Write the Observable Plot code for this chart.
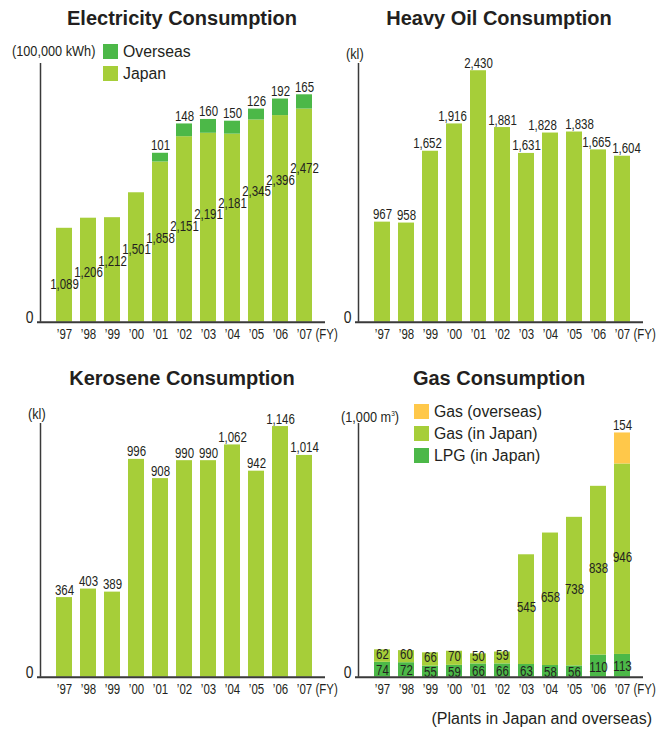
<!DOCTYPE html>
<html>
<head>
<meta charset="utf-8">
<script src="https://cdn.jsdelivr.net/npm/d3@7"></script>
<script src="https://cdn.jsdelivr.net/npm/@observablehq/plot@0.6"></script>
<style>
  body { margin: 0; background: #fff; }
  #root { position: relative; width: 668px; height: 730px; font-family: "Liberation Sans", Arial, sans-serif; color: #231f20; overflow: hidden; }
  .panel { position: absolute; width: 334px; }
  .panel svg { position: absolute; left: 0; top: 0; }
  .title { position: absolute; top: 8px; font-weight: bold; font-size: 20px; line-height: 20px; white-space: nowrap; transform: translateX(-50%); z-index: 2; }
  .unit { position: absolute; font-size: 15.5px; line-height: 16px; white-space: nowrap; transform: scaleX(0.82); transform-origin: 0 0; z-index: 2; }
  .leg { position: absolute; display: flex; align-items: center; font-size: 15.8px; line-height: 15px; white-space: nowrap; z-index: 2; }
  .leg span.sw { display: inline-block; width: 15px; height: 15px; margin-right: 5px; }
  .caption { position: absolute; right: 16px; top: 711px; font-size: 16px; line-height: 16px; white-space: nowrap; }
</style>
</head>
<body>
<div id="root"></div>
<script>
// ---------- data ----------
const years = ["1997","1998","1999","2000","2001","2002","2003","2004","2005","2006","2007"];
const tickLabels = ["’97","’98","’99","’00","’01","’02","’03","’04","’05","’06","’07"];

const elecJapan    = [1089,1206,1212,1501,1858,2151,2191,2181,2345,2396,2472];
const elecOverseas = [0,0,0,0,101,148,160,150,126,192,165];

const heavyOil = [967,958,1652,1916,2430,1881,1631,1828,1838,1665,1604];

const kerosene = [364,403,389,996,908,990,990,1062,942,1146,1014];

const lpgJapan    = [74,72,55,59,66,66,63,58,56,110,113];
const gasJapan    = [62,60,66,70,50,59,545,658,738,838,946];
const gasOverseas = [0,0,0,0,0,0,0,0,0,0,154];

// ---------- style ----------
const LIME = "#a6ce39", GREEN = "#4cb848", YELLOW = "#ffc84a", INK = "#231f20", AXIS = "#3a3a3a";
const fmt = d3.format(",");
const tickFmt = y => tickLabels[years.indexOf(y)];

// horizontal condensing of SVG texts (imitates a narrow typeface)
function condense(svg, k) {
  svg.querySelectorAll("text").forEach(t => {
    const w = t.getComputedTextLength();
    if (w > 0) {
      t.setAttribute("textLength", (w * k).toFixed(2));
      t.setAttribute("lengthAdjust", "spacingAndGlyphs");
    }
  });
}

function chart({L, H, baseline, yMax, marks}) {
  const frameW = 288;
  return Plot.plot({
    width: 334, height: H,
    marginLeft: L, marginRight: 334 - (L + frameW), marginTop: 63, marginBottom: H - baseline,
    style: {fontFamily: "'Liberation Sans',Arial,sans-serif", fontSize: "14px", color: INK, background: "transparent", overflow: "visible"},
    x: {type: "band", domain: years, range: [L, L + 292.7], paddingInner: 0.346, paddingOuter: 0.654,
        tickSize: 0, tickPadding: 7, tickFormat: tickFmt, label: null},
    y: {domain: [0, yMax], axis: null},
    marks: [
      ...marks,
      Plot.ruleY([0], {stroke: AXIS, strokeWidth: 2}),
      Plot.ruleX([years[0]], {x: d => d, y1: 0, y2: yMax, dx: -24, stroke: AXIS, strokeWidth: 1.5}),
      Plot.text([0], {y: d => d, frameAnchor: "left", textAnchor: "end", dx: -4, dy: -5, fontSize: 17, text: d => "0"}),
      Plot.text(["(FY)"], {frameAnchor: "bottom-right", textAnchor: "start", lineAnchor: "top", dx: -10, dy: 7, fontSize: 14})
    ]
  });
}

function panel(left, top, height, titleText, titleX, extraHTML) {
  const div = document.createElement("div");
  div.className = "panel";
  div.style.left = left + "px";
  div.style.top = top + "px";
  div.style.height = height + "px";
  div.innerHTML = `<div class="title" style="left:${titleX}px">${titleText}</div>` + extraHTML;
  document.getElementById("root").appendChild(div);
  return div;
}

function place(p, svg) {
  p.prepend(svg);
  condense(svg, 0.82);
}

function legendItems(x, y0, items) {
  return items.map(([label, color], i) =>
    `<div class="leg" style="left:${x}px;top:${y0 + i * 22}px"><span class="sw" style="background:${color}"></span>${label}</div>`
  ).join("");
}

// ---------- Electricity ----------
{
  const rows = years.map((year, i) => ({year, i, japan: elecJapan[i], overseas: elecOverseas[i], total: elecJapan[i] + elecOverseas[i]}));
  const p = panel(0, 0, 360, "Electricity Consumption", 182,
    `<div class="unit" style="left:12px;top:43px">(100,000 kWh)</div>` +
    legendItems(103, 44, [["Overseas", GREEN], ["Japan", LIME]]));
  place(p, chart({
    L: 37, H: 360, baseline: 321.7, yMax: 3000,
    marks: [
      Plot.barY(rows, {x: "year", y1: 0, y2: "japan", fill: LIME}),
      Plot.barY(rows.filter(d => d.overseas > 0), {x: "year", y1: "japan", y2: "total", fill: GREEN}),
      Plot.text(rows.filter(d => d.overseas > 0), {x: "year", y: "total", text: d => fmt(d.overseas), lineAnchor: "bottom", dy: -3}),
      Plot.text(rows, {x: "year", y: d => 440 + 134 * d.i, text: d => fmt(d.japan)})
    ]
  }));
}

// ---------- Heavy oil ----------
{
  const nudge = {"1999": -3, "2000": -2, "2004": -8, "2005": 5, "2006": -2, "2007": 4};
  const rows = years.map((year, i) => ({year, v: heavyOil[i]}));
  const p = panel(334, 0, 360, "Heavy Oil Consumption", 165,
    `<div class="unit" style="left:12px;top:46px">(kl)</div>`);
  place(p, chart({
    L: 21, H: 360, baseline: 321.7, yMax: 2500,
    marks: [
      Plot.barY(rows, {x: "year", y: "v", fill: LIME}),
      ...rows.map(d => Plot.text([d], {x: "year", y: "v", text: d => fmt(d.v), lineAnchor: "bottom", dy: -3, dx: nudge[d.year] || 0}))
    ]
  }));
}

// ---------- Kerosene ----------
{
  const rows = years.map((year, i) => ({year, v: kerosene[i]}));
  const p = panel(0, 360, 370, "Kerosene Consumption", 182,
    `<div class="unit" style="left:28px;top:46px">(kl)</div>`);
  place(p, chart({
    L: 37, H: 370, baseline: 316.7, yMax: 1160,
    marks: [
      Plot.barY(rows, {x: "year", y: "v", fill: LIME}),
      Plot.text(rows, {x: "year", y: "v", text: d => fmt(d.v), lineAnchor: "bottom", dy: -3})
    ]
  }));
}

// ---------- Gas ----------
{
  const rows = years.map((year, i) => ({
    year, lpg: lpgJapan[i], gas: gasJapan[i], ovs: gasOverseas[i],
    t1: lpgJapan[i], t2: lpgJapan[i] + gasJapan[i], t3: lpgJapan[i] + gasJapan[i] + gasOverseas[i]
  }));
  const p = panel(334, 360, 370, "Gas Consumption", 165,
    `<div class="unit" style="left:7px;top:46px">(1,000 m<sup style="font-size:8px">3</sup>)</div>` +
    legendItems(80, 44, [["Gas (overseas)", YELLOW], ["Gas (in Japan)", LIME], ["LPG (in Japan)", GREEN]]));
  place(p, chart({
    L: 21, H: 370, baseline: 316.7, yMax: 1260,
    marks: [
      Plot.barY(rows, {x: "year", y1: 0, y2: "t1", fill: GREEN}),
      Plot.barY(rows, {x: "year", y1: "t1", y2: "t2", fill: LIME}),
      Plot.barY(rows.filter(d => d.ovs > 0), {x: "year", y1: "t2", y2: "t3", fill: YELLOW}),
      Plot.text(rows, {x: "year", y: d => d.t1 / 2, text: d => fmt(d.lpg), dy: 1}),
      Plot.text(rows, {x: "year", y: d => (d.t1 + d.t2) / 2, text: d => fmt(d.gas), dy: -2}),
      Plot.text(rows.filter(d => d.ovs > 0), {x: "year", y: "t3", text: d => fmt(d.ovs), lineAnchor: "bottom", dy: -3})
    ]
  }));
}

// caption
{
  const c = document.createElement("div");
  c.className = "caption";
  c.textContent = "(Plants in Japan and overseas)";
  document.getElementById("root").appendChild(c);
}
</script>
</body>
</html>
